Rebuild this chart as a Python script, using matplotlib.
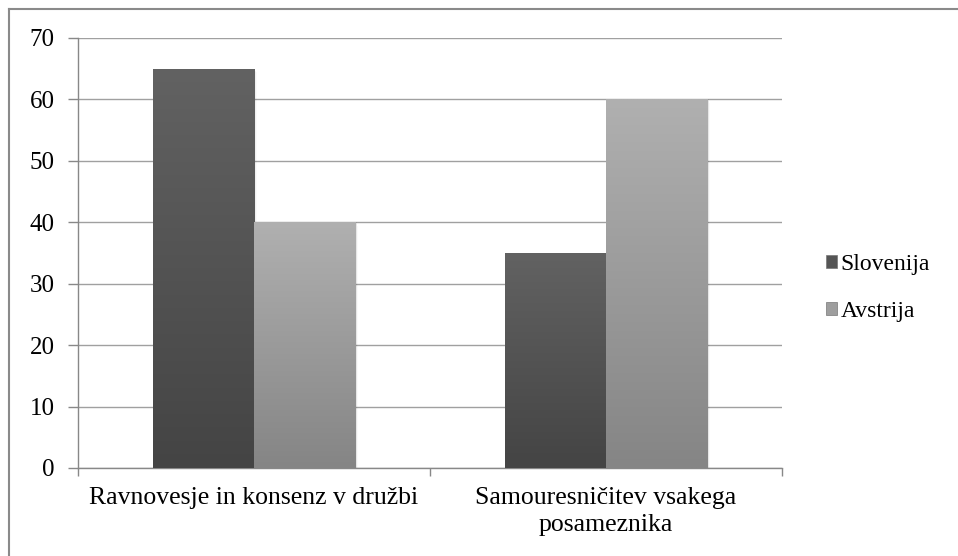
import numpy as np
import matplotlib
matplotlib.use("Agg")
import matplotlib.pyplot as plt
from matplotlib.colors import LinearSegmentedColormap
from matplotlib.patches import Rectangle
from matplotlib.lines import Line2D

categories = ["Ravnovesje in konsenz v družbi", "Samouresničitev vsakega\nposameznika"]
series_names = ["Slovenija", "Avstrija"]
slovenija = [65, 35]
avstrija = [40, 60]
yticks = [0, 10, 20, 30, 40, 50, 60, 70]

plt.rcParams['font.family'] = ['Liberation Serif', 'DejaVu Serif']

W, H = 958, 556
fig = plt.figure(figsize=(W/100, H/100), dpi=100)
ax = fig.add_axes([78/W, 1-468/H, (782-78)/W, (468-38)/H])

grad_cols = [("#444444", "#626262"), ("#858585", "#b0b0b0")]
face_cols = ["#555555", "#9e9e9e"]
bw = 0.2875
x = np.arange(len(categories))
for si, vals in enumerate([slovenija, avstrija]):
    offs = (si - 0.5) * bw
    cmap = LinearSegmentedColormap.from_list("g%d" % si, grad_cols[si])
    for xi, v in zip(x, vals):
        left = xi + offs - bw/2
        for k, a in enumerate([0.06, 0.04, 0.02]):
            ax.add_patch(Rectangle((left + bw + 0.002*k, 0), 0.004, v - 0.3*k,
                                   facecolor="black", alpha=a, lw=0, zorder=2))
        bars = ax.bar(xi + offs, v, bw, color=face_cols[si], zorder=3,
                      edgecolor="#888888", linewidth=0.6)
        grad = np.linspace(0, 1, 256).reshape(-1, 1)
        im = ax.imshow(grad, cmap=cmap, aspect="auto", origin="lower",
                       extent=(left, left + bw, 0, v), zorder=3.5)
        im.set_clip_path(bars[0])

ax.set_xlim(-0.5, len(categories) - 0.5)
ax.set_ylim(0, 70)
ax.set_yticks(yticks)
ax.set_yticklabels([str(t) for t in yticks], fontsize=18)
ax.yaxis.grid(True, color="#a0a0a0", linewidth=1.0)
ax.set_axisbelow(True)
ax.set_xticks([-0.5, 0.5, 1.5], minor=False)
ax.set_xticklabels(["", "", ""])
ax.tick_params(axis="x", direction="out", length=6, color="#888888", width=1)
ax.tick_params(axis="y", direction="out", length=7, color="#888888", width=1, pad=10)
for i, c in enumerate(categories):
    ax.text(x[i], -19/430, c, transform=ax.get_xaxis_transform(), ha="center", va="top",
            fontsize=18.5, linespacing=1.3)
for s in ["top", "right"]:
    ax.spines[s].set_visible(False)
for s in ["left", "bottom"]:
    ax.spines[s].set_color("#888888")
    ax.spines[s].set_linewidth(1)

handles = [Rectangle((0, 0), 1, 1, facecolor=face_cols[i], edgecolor="#777777", lw=0.5)
           for i in range(2)]
fig.legend(handles, series_names, loc="center left", bbox_to_anchor=(805/W, 1-288/H),
           frameon=False, fontsize=17, handlelength=0.45, handleheight=0.45,
           handletextpad=0.15, labelspacing=1.1)

fig.add_artist(Line2D([9/W, 1], [1-9/H, 1-9/H], color="#8a8a8a", lw=1.5, transform=fig.transFigure))
fig.add_artist(Line2D([9/W, 9/W], [0, 1-9/H], color="#8a8a8a", lw=1.5, transform=fig.transFigure))

fig.savefig("out.png", dpi=100)
